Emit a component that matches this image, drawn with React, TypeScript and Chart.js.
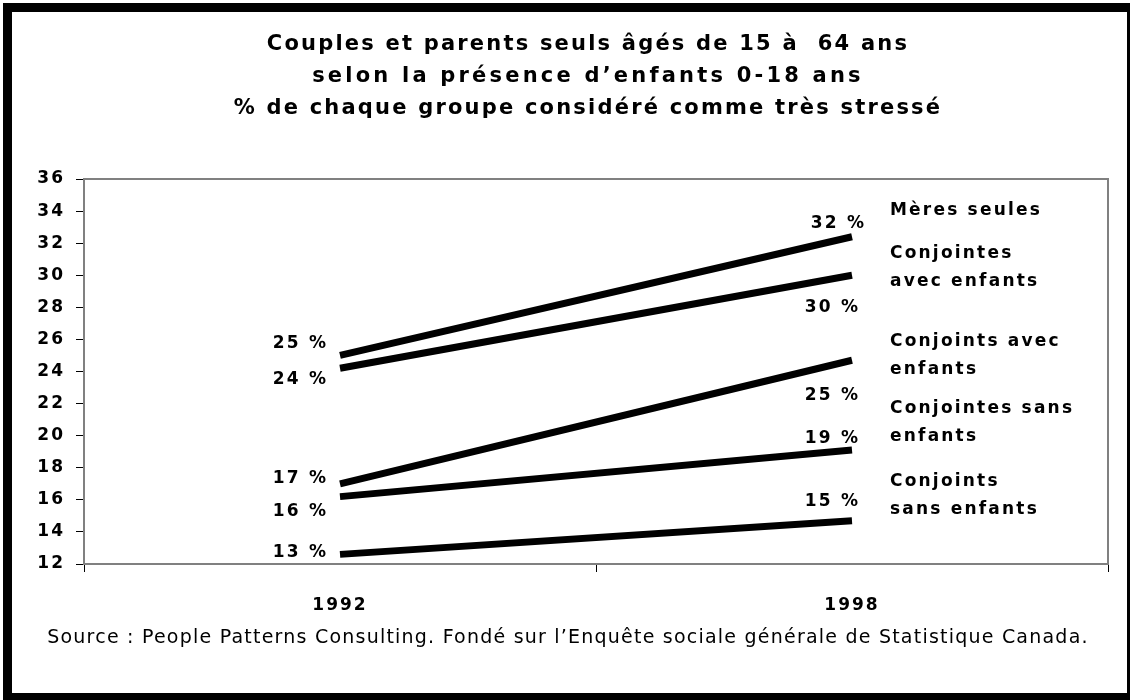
import React, { useEffect, useRef } from "react";
import { Chart, registerables } from "chart.js";

Chart.register(...registerables);

// ---------- data ----------
const years = ["1992", "1998"];
const meresSeules = [25.0, 32.4];
const conjointesAvecEnfants = [24.2, 30.0];
const conjointsAvecEnfants = [17.0, 24.7];
const conjointesSansEnfants = [16.2, 19.1];
const conjointsSansEnfants = [12.6, 14.7];

const seriesValues = [
  meresSeules,
  conjointesAvecEnfants,
  conjointsAvecEnfants,
  conjointesSansEnfants,
  conjointsSansEnfants,
];
const seriesNames = [
  ["Mères seules"],
  ["Conjointes", "avec enfants"],
  ["Conjoints avec", "enfants"],
  ["Conjointes sans", "enfants"],
  ["Conjoints", "sans enfants"],
];

const yMin = 12;
const yMax = 36;
const yStep = 2;

const titleLines = [
  "Couples et parents seuls âgés de 15 à  64 ans",
  "selon la présence d’enfants 0-18 ans",
  "% de chaque groupe considéré comme très stressé",
];
const sourceText =
  "Source : People Patterns Consulting. Fondé sur l’Enquête sociale générale de Statistique Canada.";

// ---------- label placement (offsets from the data point, px) ----------
// value labels: [dx of text right edge, dy of text centre] for each point
const valueLabelOffsets = [
  [[-14, -14], [12, -15]],
  [[-14, 10], [6, 31]],
  [[-14, -7], [6, 34]],
  [[-14, 13], [6, -13]],
  [[-14, -4], [6, -21]],
];
// series names: dy of first line centre from the last point
const nameOffsets = [-28, -23.5, -20, -43.5, -40.5];
const NAME_DX = 38;
const NAME_LINE = 28;

const FAMILY = '"DejaVu Sans", "Liberation Sans", sans-serif';
const TICK_SIZE = 17;
const TICK_SPACING = 2;
const LABEL_SIZE = 17;
const LABEL_SPACING = 2.2;

function drawText(
  ctx: CanvasRenderingContext2D,
  text: string,
  x: number,
  cy: number,
  align: "left" | "right" | "center",
  size: number,
  spacing: number,
  weight = "bold"
) {
  ctx.save();
  ctx.font = `${weight} ${size}px ${FAMILY}`;
  (ctx as any).letterSpacing = `${spacing}px`;
  ctx.textAlign = "left";
  ctx.textBaseline = "alphabetic";
  ctx.fillStyle = "#000";
  const w = ctx.measureText(text).width - spacing;
  let left = x;
  if (align === "right") left = x - w;
  else if (align === "center") left = x - w / 2;
  ctx.fillText(text, left, cy + 0.3645 * size);
  ctx.restore();
}

export default function App() {
  const ref = useRef<HTMLCanvasElement>(null);

  useEffect(() => {
    document.body.style.margin = "0";
    const canvas = ref.current!;

    const setSpacing = (chart: any) => {
      (chart.ctx as any).letterSpacing = `${TICK_SPACING}px`;
    };
    const spacingPlugin = {
      id: "spacing",
      beforeUpdate: setSpacing,
      beforeLayout: setSpacing,
      beforeDraw: setSpacing,
    };
    const framePlugin = {
      id: "frame",
      beforeDatasetsDraw(chart: any) {
        const { ctx, chartArea: a } = chart;
        ctx.save();
        ctx.strokeStyle = "#808080";
        ctx.lineWidth = 2;
        ctx.strokeRect(a.left, a.top, a.right - a.left, a.bottom - a.top);
        ctx.restore();
      },
    };
    const labelsPlugin = {
      id: "labels",
      afterDatasetsDraw(chart: any) {
        const ctx = chart.ctx;
        seriesValues.forEach((vals, i) => {
          const meta = chart.getDatasetMeta(i);
          meta.data.forEach((pt: any, j: number) => {
            const [dx, dy] = valueLabelOffsets[i][j];
            drawText(ctx, `${Math.round(vals[j])} %`, pt.x + dx, pt.y + dy, "right", LABEL_SIZE, LABEL_SPACING);
          });
          const last = meta.data[meta.data.length - 1];
          seriesNames[i].forEach((line, k) =>
            drawText(ctx, line, last.x + NAME_DX, last.y + nameOffsets[i] + k * NAME_LINE, "left", LABEL_SIZE, LABEL_SPACING)
          );
        });
        setSpacing(chart);
      },
    };

    const chart = new Chart(canvas, {
      type: "line",
      data: {
        labels: years,
        datasets: seriesValues.map((vals, i) => ({
          label: seriesNames[i].join(" "),
          data: vals,
          borderColor: "#000",
          backgroundColor: "#000",
          borderWidth: 7,
          borderCapStyle: "butt" as const,
          pointRadius: 0,
          pointHoverRadius: 0,
          tension: 0,
          fill: false,
        })),
      },
      options: {
        animation: false,
        responsive: false,
        maintainAspectRatio: false,
        events: [],
        layout: { padding: { left: 0, top: 179, right: 22, bottom: 0 } },
        plugins: {
          legend: { display: false },
          tooltip: { enabled: false },
          title: { display: false },
        },
        scales: {
          x: {
            offset: true,
            grid: {
              offset: true,
              drawOnChartArea: false,
              drawTicks: true,
              tickLength: 8,
              color: "#000",
              lineWidth: 1,
            },
            border: { display: false },
            ticks: {
              color: "#000",
              font: { family: FAMILY, size: TICK_SIZE, weight: "bold" },
              padding: 23.5,
              maxRotation: 0,
            },
            afterFit: (s: any) => {
              s.height = 136;
            },
          },
          y: {
            min: yMin,
            max: yMax,
            grid: {
              drawOnChartArea: false,
              drawTicks: true,
              tickLength: 8,
              color: "#000",
              lineWidth: 1,
            },
            border: { display: false },
            ticks: {
              stepSize: yStep,
              color: "#000",
              font: { family: FAMILY, size: TICK_SIZE, weight: "bold" },
              padding: 11,
            },
            afterFit: (s: any) => {
              s.width = 84;
            },
          },
        },
      },
      plugins: [spacingPlugin, framePlugin, labelsPlugin],
    } as any);

    return () => chart.destroy();
  }, []);

  const titleCenters = [43, 75, 107];
  const titleSpacing = [2.2, 3.2, 2.2];

  return (
    <div
      style={{
        position: "fixed",
        left: 0,
        top: 0,
        width: 1130,
        height: 700,
        overflow: "hidden",
        background: "#fff",
      }}
    >
      <div
        style={{
          position: "absolute",
          left: 3,
          top: 3,
          width: 1133,
          height: 699,
          boxSizing: "border-box",
          border: "9px solid #000",
        }}
      />
      <canvas
        ref={ref}
        width={1130}
        height={700}
        style={{ position: "absolute", left: 0, top: 0, width: 1130, height: 700 }}
      />
      {titleLines.map((t, i) => (
        <div
          key={i}
          style={{
            position: "absolute",
            left: 588 - 500,
            width: 1000,
            top: titleCenters[i] - 16,
            height: 32,
            lineHeight: "32px",
            textAlign: "center",
            fontFamily: FAMILY,
            fontWeight: "bold",
            fontSize: 21,
            letterSpacing: `${titleSpacing[i]}px`,
            whiteSpace: "pre",
            color: "#000",
          }}
        >
          {t}
        </div>
      ))}
      <div
        style={{
          position: "absolute",
          left: 568 - 560,
          width: 1120,
          top: 636 - 14,
          height: 28,
          lineHeight: "28px",
          textAlign: "center",
          fontFamily: FAMILY,
          fontWeight: "normal",
          fontSize: 19,
          letterSpacing: "1.22px",
          whiteSpace: "pre",
          color: "#000",
        }}
      >
        {sourceText}
      </div>
    </div>
  );
}
